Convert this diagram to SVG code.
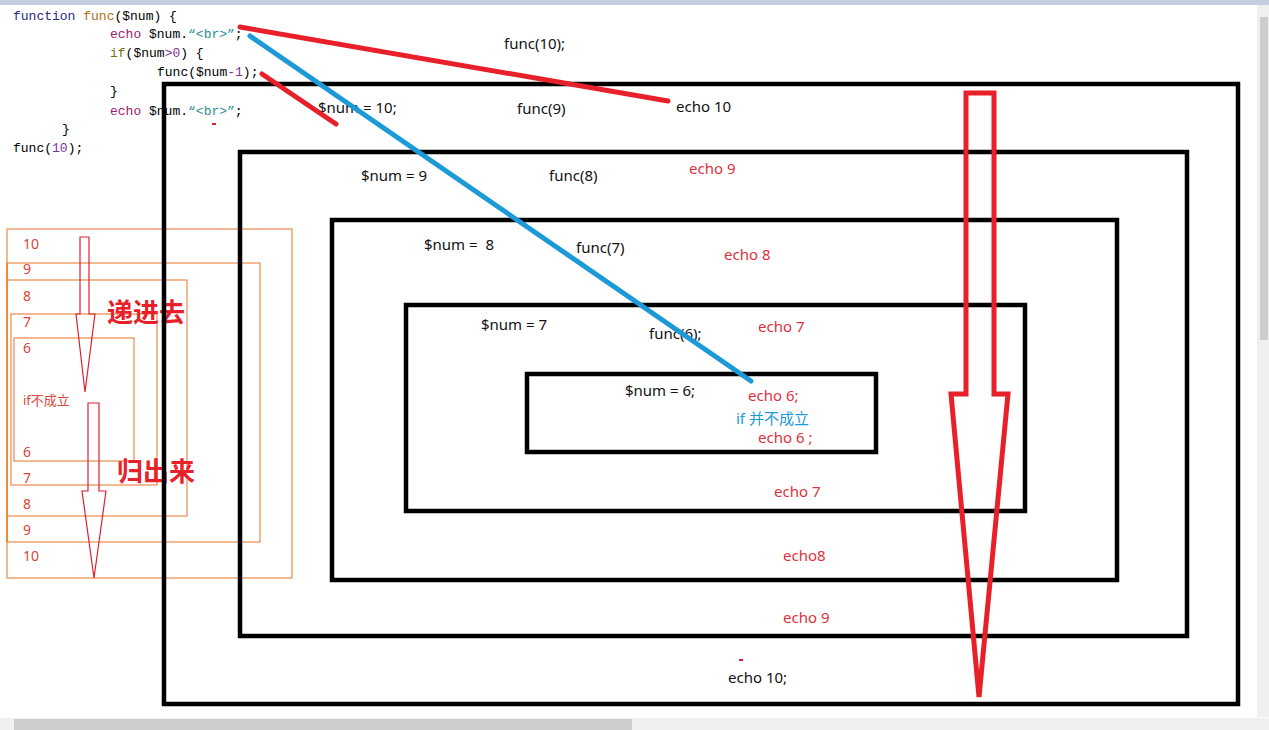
<svg xmlns="http://www.w3.org/2000/svg" width="1269" height="730" viewBox="0 0 1269 730">
<defs>
<style>
.frame{fill:none;stroke:#000;stroke-width:4.5}
.ob{fill:none;stroke:#ec8a4a;stroke-width:1.2}
.t{font-family:"Noto Sans","Noto Sans CJK SC",sans-serif;font-size:15px;fill:#111}
.r{font-family:"Noto Sans","Noto Sans CJK SC",sans-serif;font-size:15px;fill:#e0303c}
.b{font-family:"Noto Sans","Noto Sans CJK SC",sans-serif;font-size:15px;fill:#1b9ad7}
.n{font-family:"Noto Sans","Noto Sans CJK SC",sans-serif;font-size:14px;fill:#d9453a}
.big{font-family:"Noto Sans CJK SC",sans-serif;font-size:26px;font-weight:bold;fill:#e8202a}
.code{font-family:"Liberation Mono",monospace;font-size:13px;fill:#000}
.kw{fill:#2a2a80}.fn{fill:#b07020}.ec{fill:#a0206a}.st{fill:#2a9090}.nu{fill:#8030a0}.iff{fill:#707010}
.rl{stroke:#e8202a;stroke-width:5;fill:none;stroke-linecap:round}
.bl{stroke:#1b9ad7;stroke-width:5;fill:none;stroke-linecap:round}
.ra{stroke:#e8202a;stroke-width:5;fill:none;stroke-linejoin:miter}
.la{stroke:#e02030;stroke-width:1.2;fill:none}
</style>
</defs>
<rect width="1269" height="730" fill="#fff"/>
<rect x="0" y="0" width="1269" height="5" fill="#c5cde0"/>
<rect x="1257" y="5" width="12" height="712" fill="#f0f0f0"/>
<rect x="1260" y="17" width="8" height="323" fill="#cdcdcd"/>
<rect x="0" y="718" width="1269" height="12" fill="#f0f0f0"/>
<rect x="14" y="719" width="618" height="11" fill="#cdcdcd"/>

<g id="code" class="code">
<text x="13" y="20"><tspan class="kw">function</tspan> <tspan class="fn">func</tspan>($num) {</text>
<text x="110" y="38"><tspan class="ec">echo</tspan> $num.<tspan class="st">“&lt;br&gt;”</tspan>;</text>
<text x="110" y="57"><tspan class="iff">if</tspan>($num<tspan class="nu">&gt;0</tspan>) {</text>
<text x="157" y="76">func($num<tspan class="nu">-1</tspan>);</text>
<text x="110" y="95">}</text>
<text x="110" y="115"><tspan class="ec">echo</tspan> $num.<tspan class="st">“&lt;br&gt;”</tspan>;</text>
<text x="62" y="133">}</text>
<text x="13" y="152">func(<tspan class="nu">10</tspan>);</text>
</g>

<g id="left-boxes">
<rect class="ob" x="7" y="229" width="285" height="349"/>
<rect class="ob" x="7" y="263" width="253" height="279"/>
<rect class="ob" x="7" y="280" width="180" height="236"/>
<rect class="ob" x="11" y="314" width="146" height="171"/>
<rect class="ob" x="14" y="338" width="120" height="123"/>
<line x1="7" y1="263" x2="7" y2="542" stroke="#f08a30" stroke-width="2"/>
<text class="n" x="23" y="249">10</text>
<text class="n" x="23" y="274">9</text>
<text class="n" x="23" y="301">8</text>
<text class="n" x="23" y="327">7</text>
<text class="n" x="23" y="353">6</text>
<text class="n" x="23" y="405" style="font-size:13px">if不成立</text>
<text class="n" x="23" y="457">6</text>
<text class="n" x="23" y="483">7</text>
<text class="n" x="23" y="509">8</text>
<text class="n" x="23" y="535">9</text>
<text class="n" x="23" y="561">10</text>
<text class="big" x="107" y="322">递进去</text>
<text class="big" x="117" y="481">归出来</text>
</g>

<g id="frame-10">
<rect class="frame" x="164" y="84" width="1074" height="620"/>
<text class="t" x="504" y="49">func(10);</text>
<text class="t" x="318" y="113">$num = 10;</text>
<text class="t" x="517" y="114">func(9)</text>
<text class="t" x="676" y="112">echo 10</text>
<text class="t" x="728" y="683">echo 10;</text>
</g>
<g id="frame-9">
<rect class="frame" x="240" y="152" width="947" height="484"/>
<text class="t" x="361" y="181">$num = 9</text>
<text class="t" x="549" y="181">func(8)</text>
<text class="r" x="689" y="174">echo 9</text>
<text class="r" x="783" y="623">echo 9</text>
</g>
<g id="frame-8">
<rect class="frame" x="332" y="220" width="785" height="360"/>
<text class="t" x="424" y="250" xml:space="preserve">$num =  8</text>
<text class="t" x="576" y="253">func(7)</text>
<text class="r" x="724" y="260">echo 8</text>
<text class="r" x="783" y="561">echo8</text>
</g>
<g id="frame-7">
<rect class="frame" x="406" y="305" width="619" height="206"/>
<text class="t" x="481" y="330">$num = 7</text>
<text class="t" x="649" y="339">func(6);</text>
<text class="r" x="758" y="332">echo 7</text>
<text class="r" x="774" y="497">echo 7</text>
</g>
<g id="frame-6">
<rect class="frame" x="527" y="374" width="349" height="78"/>
<text class="t" x="625" y="396">$num = 6;</text>
<text class="r" x="748" y="401">echo 6;</text>
<text class="b" x="736" y="424">if 并不成立</text>
<text class="r" x="758" y="443">echo 6 ;</text>
</g>

<g id="connectors">
<line class="rl" x1="240" y1="27" x2="668" y2="101"/>
<line class="rl" x1="262" y1="74" x2="336" y2="124"/>
<line class="bl" x1="250" y1="36" x2="751" y2="381"/>
<path class="ra" d="M966,394 V93 H994 V394 H1008 L979,697 L951,394 Z"/>
<path class="la" d="M80,314 V237 H89 V314 H95 L85,392 L76,314 Z"/>
<path class="la" d="M88,491 V403 H99 V491 H106 L94,578 L82,491 Z"/>
<rect x="212" y="123" width="4" height="2" fill="#e02030"/>
<rect x="739" y="659" width="4" height="2" fill="#e02030"/>
</g>
</svg>
